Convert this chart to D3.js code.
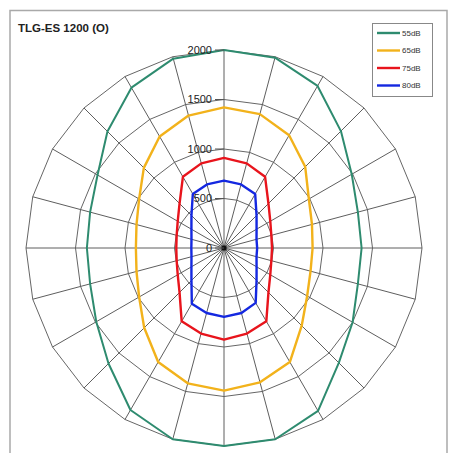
<!DOCTYPE html>
<html>
<head>
<meta charset="utf-8">
<script src="https://cdn.jsdelivr.net/npm/d3@7"></script>
<style>
  body { margin: 0; background: #fff; }
  svg { display: block; font-family: Arial, "Liberation Sans", sans-serif; }
</style>
</head>
<body>
<div id="chart"></div>
<script>
"use strict";

const chtWidth = 449,
  chtHeight = 453;

// Bearings in degrees, clockwise from the top (one category every 15 degrees)
const angles = d3.range(0, 360, 15);

const ringValues = [500, 1000, 1500, 2000],
  tickValues = [0, 500, 1000, 1500, 2000];

const seriesNames = ["55dB", "65dB", "75dB", "80dB"],
  seriesColours = ["#2e8b6f", "#f2b21b", "#e8141c", "#1428e0"];

// Values, one per bearing
const values55 = [2000, 1990, 1890, 1670, 1490, 1400, 1390, 1400, 1500, 1640, 1900, 2000,
  2000, 2000, 1890, 1650, 1490, 1400, 1385, 1400, 1475, 1665, 1870, 1980];
const values65 = [1420, 1400, 1315, 1160, 990, 920, 895, 905, 970, 1110, 1330, 1405,
  1440, 1415, 1330, 1140, 990, 915, 890, 915, 990, 1145, 1300, 1385];
const values75 = [910, 885, 830, 635, 540, 495, 485, 495, 540, 635, 855, 895,
  925, 895, 855, 635, 540, 495, 482, 495, 540, 635, 830, 885];
const values80 = [680, 665, 630, 465, 380, 340, 335, 340, 380, 465, 640, 680,
  695, 680, 650, 465, 380, 340, 330, 340, 380, 465, 630, 665];

const seriesValues = [values55, values65, values75, values80];

const centre = { x: 224, y: 248 };

const svg = d3
  .select("#chart")
  .append("svg")
  .attr("width", chtWidth)
  .attr("height", chtHeight);

// chart area frame
svg
  .append("rect")
  .attr("x", 10)
  .attr("y", 10.5)
  .attr("width", 437)
  .attr("height", 460)
  .attr("fill", "none")
  .attr("stroke", "#a9a9a9")
  .attr("stroke-width", 1.5);

svg
  .append("text")
  .attr("x", 18)
  .attr("y", 32)
  .attr("font-size", 11.5)
  .attr("font-weight", "bold")
  .attr("fill", "#222")
  .text("TLG-ES 1200 (O)");

const r = d3.scaleLinear().domain([0, 2000]).range([0, 198]);
const a = (deg) => (deg * Math.PI) / 180;

const g = svg
  .append("g")
  .attr("transform", `translate(${centre.x},${centre.y})`);

// ring gridlines (polygons, as in a radar chart)
const ringLine = d3
  .lineRadial()
  .angle((d) => a(d))
  .curve(d3.curveLinearClosed);

g.append("g")
  .selectAll("path")
  .data(ringValues)
  .join("path")
  .attr("d", (v) => ringLine.radius(r(v))(angles))
  .attr("fill", "none")
  .attr("stroke", "#666")
  .attr("stroke-width", 1);

// spokes
g.append("g")
  .selectAll("line")
  .data(angles)
  .join("line")
  .attr("x1", 0)
  .attr("y1", 0)
  .attr("x2", (d) => r(2000) * Math.sin(a(d)))
  .attr("y2", (d) => -r(2000) * Math.cos(a(d)))
  .attr("stroke", "#5e5e5e")
  .attr("stroke-width", 1);

g.append("circle").attr("r", 2.5).attr("fill", "#111");

// series
seriesValues.forEach((vals, i) => {
  const line = d3
    .lineRadial()
    .angle((d, j) => a(angles[j]))
    .radius((d) => r(d))
    .curve(d3.curveLinearClosed);

  g.append("path")
    .attr("d", line(vals))
    .attr("fill", "none")
    .attr("stroke", seriesColours[i])
    .attr("stroke-width", i === 0 ? 2 : 2.4)
    .attr("stroke-linejoin", "round");
});

// value axis ticks and labels along the top spoke
const axis = g.append("g");
axis
  .selectAll("line")
  .data(tickValues)
  .join("line")
  .attr("x1", -9)
  .attr("x2", 0)
  .attr("y1", (d) => -r(d))
  .attr("y2", (d) => -r(d))
  .attr("stroke", "#555");

axis
  .selectAll("text")
  .data(tickValues)
  .join("text")
  .attr("x", -12)
  .attr("y", (d) => -r(d))
  .attr("dy", "0.35em")
  .attr("text-anchor", "end")
  .attr("font-size", 11)
  .attr("fill", "#222")
  .text((d) => d);

// legend
const legend = svg.append("g").attr("transform", "translate(372,23)");
legend
  .append("rect")
  .attr("x", 0.5)
  .attr("y", 0.5)
  .attr("width", 60)
  .attr("height", 73)
  .attr("fill", "#fff")
  .attr("stroke", "#888");

const rows = legend
  .selectAll("g")
  .data(seriesNames)
  .join("g")
  .attr("transform", (d, i) => `translate(0,${10 + i * 17.5})`);

rows
  .append("line")
  .attr("x1", 5)
  .attr("x2", 28)
  .attr("stroke", (d, i) => seriesColours[i])
  .attr("stroke-width", 2.4);

rows
  .append("text")
  .attr("x", 30)
  .attr("dy", "0.35em")
  .attr("font-size", 8)
  .attr("fill", "#333")
  .text((d) => d);
</script>
</body>
</html>
